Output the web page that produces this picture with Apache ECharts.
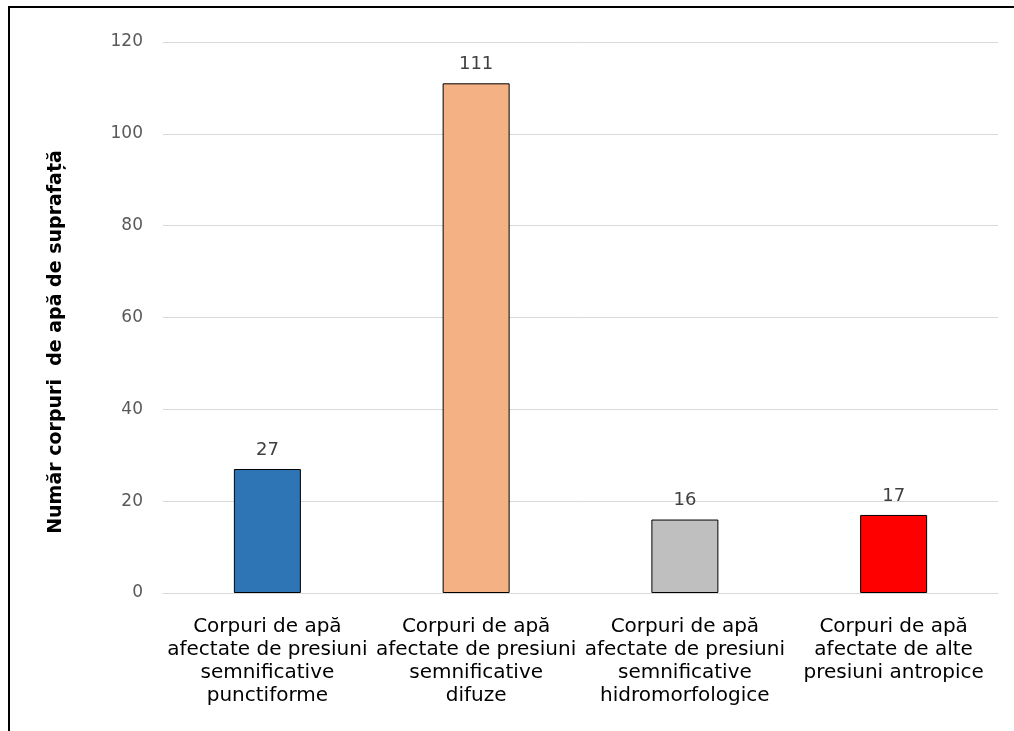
<!DOCTYPE html>
<html>
<head>
<meta charset="utf-8">
<script src="https://cdn.jsdelivr.net/npm/echarts@6/dist/echarts.min.js"></script>
<style>
  html, body { margin: 0; padding: 0; background: #fff; }
  #chart { width: 1014px; height: 731px; }
</style>
</head>
<body>
<div id="chart"></div>
<script>
// categorii si valori
var categories = [
  'Corpuri de apă\nafectate de presiuni\nsemnificative\npunctiforme',
  'Corpuri de apă\nafectate de presiuni\nsemnificative\ndifuze',
  'Corpuri de apă\nafectate de presiuni\nsemnificative\nhidromorfologice',
  'Corpuri de apă\nafectate de alte\npresiuni antropice'
];
var values = [27, 111, 16, 17];
var barColors = ['#2e75b6', '#f4b183', '#bfbfbf', '#ff0000'];
var yTitle = 'Număr corpuri  de apă de suprafață';

var wideFont = 'DejaVu Sans, Verdana, sans-serif';

var myChart = echarts.init(document.getElementById('chart'));

var option = {
  animation: false,
  textStyle: { fontFamily: wideFont },
  grid: { left: 163, right: 16, top: 42, bottom: 138 },
  xAxis: {
    type: 'category',
    data: categories,
    axisLine: { show: true, lineStyle: { color: '#d9d9d9' } },
    axisTick: { show: false },
    axisLabel: {
      interval: 0,
      color: '#000',
      fontFamily: wideFont,
      fontSize: 20,
      lineHeight: 23,
      margin: 22
    }
  },
  yAxis: {
    type: 'value',
    min: 0,
    max: 120,
    interval: 20,
    axisLine: { show: false },
    axisTick: { show: false },
    axisLabel: { color: '#595959', fontFamily: wideFont, fontSize: 17, margin: 20 },
    splitLine: { lineStyle: { color: '#d9d9d9', width: 1 } }
  },
  series: [{
    type: 'bar',
    data: values.map(function (v, i) {
      return { value: v, itemStyle: { color: barColors[i] } };
    }),
    barWidth: 67,
    itemStyle: { borderColor: '#000', borderWidth: 1 },
    label: {
      show: true,
      position: 'top',
      distance: 10,
      color: '#404040',
      fontFamily: wideFont,
      fontSize: 18
    }
  }],
  graphic: [
    // titlul axei Y
    {
      type: 'text',
      x: 56,
      y: 342,
      rotation: Math.PI / 2,
      style: {
        text: yTitle,
        fontFamily: wideFont,
        fontSize: 19,
        fontWeight: 'bold',
        fill: '#000',
        align: 'center',
        verticalAlign: 'middle'
      }
    },
    // chenar
    { type: 'line', shape: { x1: 9, y1: 7, x2: 9, y2: 731 }, style: { stroke: '#000', lineWidth: 2 } },
    { type: 'line', shape: { x1: 8, y1: 7, x2: 1014, y2: 7 }, style: { stroke: '#000', lineWidth: 2 } }
  ]
};

myChart.setOption(option);
</script>
</body>
</html>
